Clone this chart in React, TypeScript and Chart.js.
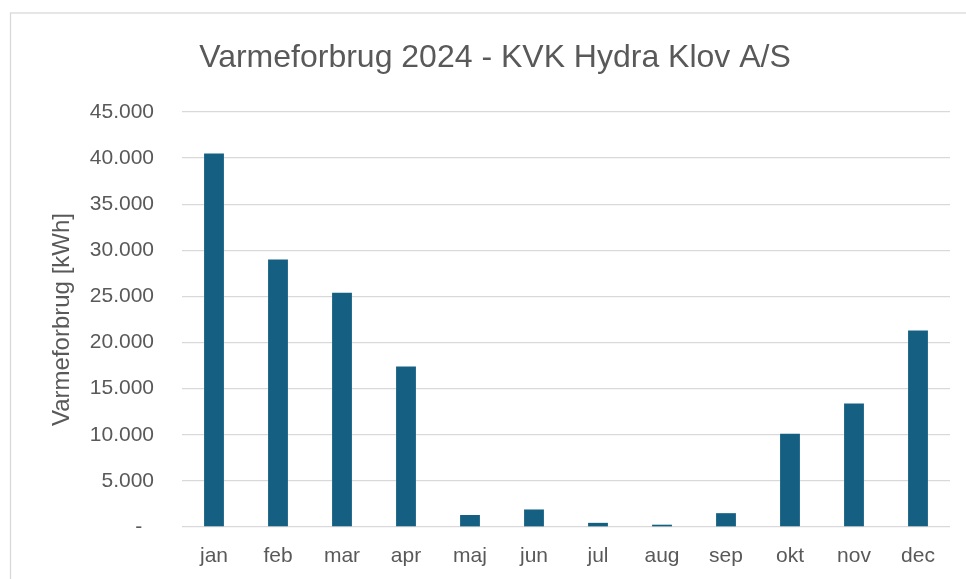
import React, { useEffect, useRef } from "react";
import { Chart, registerables } from "chart.js";

Chart.register(...registerables);

const chartTitle = "Varmeforbrug 2024 - KVK Hydra Klov A/S";
const yAxisTitle = "Varmeforbrug [kWh]";
const months = ["jan", "feb", "mar", "apr", "maj", "jun", "jul", "aug", "sep", "okt", "nov", "dec"];
const consumption = [40500, 29000, 25400, 17400, 1300, 1900, 450, 250, 1500, 10100, 13400, 21300];
const yMax = 45000;
const yStep = 5000;

const TEXT = "#595959";
const GRID = "#d9d9d9";
const BAR = "#156082";
const FONT = "'Liberation Sans', Arial, sans-serif";

function fmt(v: number): string {
  if (v === 0) return "-  ";
  const s = Math.round(v).toString();
  return s.replace(/\B(?=(\d{3})+(?!\d))/g, ".");
}

const framePlugin = {
  id: "frame",
  beforeDraw(chart: any) {
    const ctx = chart.ctx;
    ctx.save();
    ctx.fillStyle = "#ffffff";
    ctx.fillRect(0, 0, chart.width, chart.height);
    ctx.strokeStyle = GRID;
    ctx.lineWidth = 1.3;
    ctx.strokeRect(10.5, 13, chart.width + 50, chart.height + 50);
    ctx.restore();
  },
};

export default function App() {
  const ref = useRef<HTMLCanvasElement | null>(null);
  useEffect(() => {
    if (!ref.current) return;
    const chart = new Chart(ref.current, {
      type: "bar",
      data: {
        labels: months,
        datasets: [
          {
            label: yAxisTitle,
            data: consumption,
            backgroundColor: BAR,
            borderWidth: 0,
            barPercentage: 0.31,
            categoryPercentage: 1,
          },
        ],
      },
      plugins: [framePlugin],
      options: {
        animation: false,
        responsive: false,
        layout: { padding: { left: 24, right: 0, top: 0, bottom: 0 } },
        plugins: {
          legend: { display: false },
          tooltip: { enabled: false },
          title: {
            display: true,
            text: chartTitle,
            color: TEXT,
            font: { family: FONT, size: 32, weight: "normal", lineHeight: 1.2 },
            padding: { top: 39, bottom: 34.6 },
          },
        },
        scales: {
          x: {
            grid: { display: false, drawTicks: false },
            border: { display: false },
            ticks: { color: TEXT, font: { family: FONT, size: 21 }, padding: 17 },
            afterFit: (s: any) => {
              s.height = 52;
            },
          },
          y: {
            min: 0,
            max: yMax,
            grid: { color: GRID, lineWidth: 1.3, drawTicks: false },
            border: { display: false },
            ticks: {
              stepSize: yStep,
              color: TEXT,
              font: { family: FONT, size: 21 },
              padding: 28,
              callback: (v: any) => fmt(Number(v)),
            },
            title: {
              display: true,
              text: yAxisTitle,
              color: TEXT,
              font: { family: FONT, size: 24, lineHeight: 1.2 },
              padding: { top: 24, bottom: 0 },
            },
            afterFit: (s: any) => {
              s.width = 158;
            },
          },
          y2: {
            position: "right",
            display: true,
            grid: { display: false, drawTicks: false },
            border: { display: false },
            ticks: { display: false },
            afterFit: (s: any) => {
              s.width = 16;
            },
          },
        },
      },
    } as any);
    return () => chart.destroy();
  }, []);
  return (
    <div style={{ position: "fixed", left: 0, top: 0, width: 966, height: 579, background: "#fff" }}>
      <canvas ref={ref} width={966} height={579} style={{ display: "block", width: 966, height: 579 }} />
    </div>
  );
}
